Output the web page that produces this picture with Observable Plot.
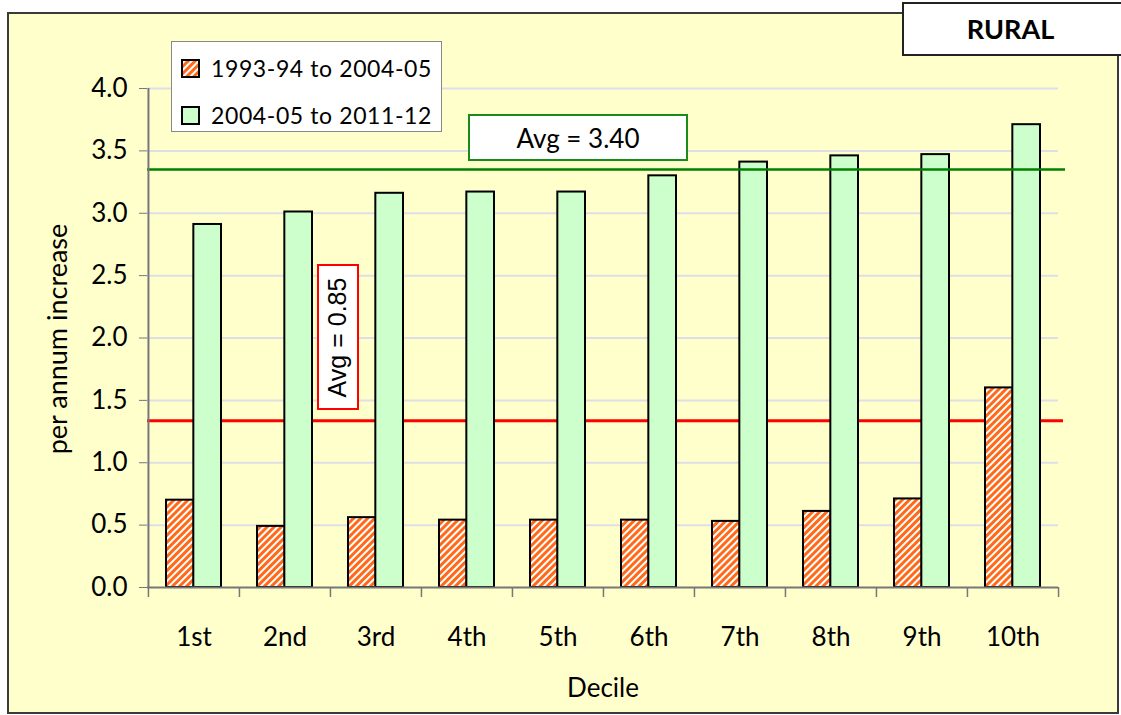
<!DOCTYPE html>
<html><head><meta charset="utf-8">
<script src="https://cdn.jsdelivr.net/npm/d3@7"></script>
<script src="https://cdn.jsdelivr.net/npm/@observablehq/plot@0.6"></script>
<style>
html,body{margin:0;padding:0;background:#fff;}
#wrap{position:relative;width:1121px;height:715px;overflow:hidden;font-family:Lato,"Open Sans",sans-serif;}
#frame{position:absolute;left:7px;top:12px;width:1108px;height:698px;border:2px solid #3a3a3a;background:#ffffcc;}
#chart{position:absolute;left:0;top:0;}
#title{position:absolute;left:902px;top:2px;width:225px;height:54px;border:2px solid #222;background:#fff;box-sizing:border-box;
  font-weight:bold;font-size:27px;line-height:50px;text-align:center;padding-right:8px;}
#legend{position:absolute;left:171px;top:41px;width:271px;height:91px;border:1.5px solid #888;background:#fff;box-sizing:border-box;font-size:23px;letter-spacing:0.6px;}
.lg{position:absolute;left:9px;height:24px;display:flex;align-items:center;white-space:nowrap;}
.lg svg{margin-right:11px;}
.box{position:absolute;background:#fff;box-sizing:border-box;display:flex;align-items:center;justify-content:center;}
#avg2{left:468px;top:114px;width:220px;height:47px;border:2px solid #1a8a1a;font-size:26px;}
#avg1{left:317px;top:264px;width:42px;height:146px;border:2px solid #ff0000;font-family:"Liberation Sans",Arial,sans-serif;font-size:25px;}
#avg1 span{transform:rotate(-90deg);white-space:nowrap;display:block;}
#ylabel{position:absolute;left:56px;top:339px;transform:translate(-50%,-50%) rotate(-90deg);white-space:nowrap;font-size:27px;}
</style></head>
<body>
<div id="wrap">
  <div id="frame"></div>
  <div id="chart"></div>
  <div id="ylabel"></div>
  <div id="legend"></div>
  <div id="avg2" class="box"></div>
  <div id="avg1" class="box"><span></span></div>
  <div id="title"></div>
</div>
<script>
const deciles = ["1st","2nd","3rd","4th","5th","6th","7th","8th","9th","10th"];
const seriesNames = ["1993-94 to 2004-05","2004-05 to 2011-12"];
const growth1 = [0.70,0.49,0.56,0.54,0.54,0.54,0.53,0.61,0.71,1.60];
const growth2 = [2.91,3.01,3.16,3.17,3.17,3.30,3.41,3.46,3.47,3.71];
const avgLineValues = [1.336, 3.35];
const avgLabels = ["Avg = 0.85","Avg = 3.40"];
const yTicks = [0,0.5,1,1.5,2,2.5,3,3.5,4];
const titleText = "RURAL";
const xLabel = "Decile";
const yLabel = "per annum increase";

const W = 1121, H = 715, ML = 147, MR = 63, MT = 88, MB = 128;
const step = (W - ML - MR) / deciles.length;
const bw = step * 0.6;

const rows1 = deciles.map((d,i)=>({decile:d, value:growth1[i], series:seriesNames[0]}));
const rows2 = deciles.map((d,i)=>({decile:d, value:growth2[i], series:seriesNames[1]}));

const chart = Plot.plot({
  width: W, height: H,
  marginLeft: ML, marginRight: MR, marginTop: MT, marginBottom: MB,
  style: {background:"transparent", fontFamily:"Lato, 'Open Sans', sans-serif", fontSize:"26px", color:"#000", overflow:"visible"},
  x: {domain: deciles, paddingInner: 0.4, paddingOuter: 0.2, align: 0.5,
      tickSize: 0, tickPadding: 40, label: xLabel, labelAnchor: "center", labelOffset: 109},
  y: {domain: [0,4], ticks: yTicks, tickFormat: d3.format(".1f"), tickSize: 8, tickPadding: 12, label: null},
  marks: [
    Plot.ruleY(yTicks.filter(d=>d>0), {stroke:"#dedee8", strokeWidth:2}),
    Plot.ruleY(avgLineValues.slice(0,1), {stroke:"#ff0000", strokeWidth:3, insetRight:-5}),
    Plot.barY(rows1, {x:"decile", y:"value", fill:"url(#hatch)", stroke:"#000", strokeWidth:2, insetRight: bw/2}),
    Plot.barY(rows2, {x:"decile", y:"value", fill:"#ccffcc", stroke:"#000", strokeWidth:2, insetLeft: bw/2}),
    Plot.ruleY(avgLineValues.slice(1), {stroke:"#008000", strokeWidth:2.5, insetRight:-7}),
    Plot.ruleY([0], {stroke:"#777", strokeWidth:2}),
    Plot.ruleX(deciles, {x: d=>d, dx: -step/2, y1: 0, y2: 0, insetBottom: -10, stroke:"#777", strokeWidth:1.5}),
    Plot.ruleX(deciles.slice(-1), {x: d=>d, dx: step/2, y1: 0, y2: 0, insetBottom: -10, stroke:"#777", strokeWidth:1.5}),
    Plot.ruleX(deciles.slice(0,1), {x: d=>d, dx: -step/2, stroke:"#777", strokeWidth:2})
  ]
});
chart.insertAdjacentHTML("afterbegin",
  `<defs><pattern id="hatch" patternUnits="userSpaceOnUse" width="5" height="5" patternTransform="rotate(45)">
     <rect width="5" height="5" fill="#fff"/><rect width="3" height="5" fill="#ff6a1a"/></pattern></defs>`);
d3.select(chart).selectAll("[aria-label='y-axis tick'] path, [aria-label='y-axis'] path").attr("stroke","#777");
document.getElementById("chart").appendChild(chart);

const swatchFills = ["url(#hatch)","#ccffcc"];
const legend = document.getElementById("legend");
seriesNames.forEach((s,i)=>{
  const div = document.createElement("div");
  div.className = "lg";
  div.style.top = (i===0 ? 14 : 61) + "px";
  div.innerHTML = `<svg width="19" height="19"><rect x="1" y="1" width="17" height="17" fill="${swatchFills[i]}" stroke="#000" stroke-width="2"/></svg><span>${s}</span>`;
  legend.appendChild(div);
});
document.getElementById("ylabel").textContent = yLabel;
document.querySelector("#avg1 span").textContent = avgLabels[0];
document.getElementById("avg2").textContent = avgLabels[1];
document.getElementById("title").textContent = titleText;
</script>
</body></html>
